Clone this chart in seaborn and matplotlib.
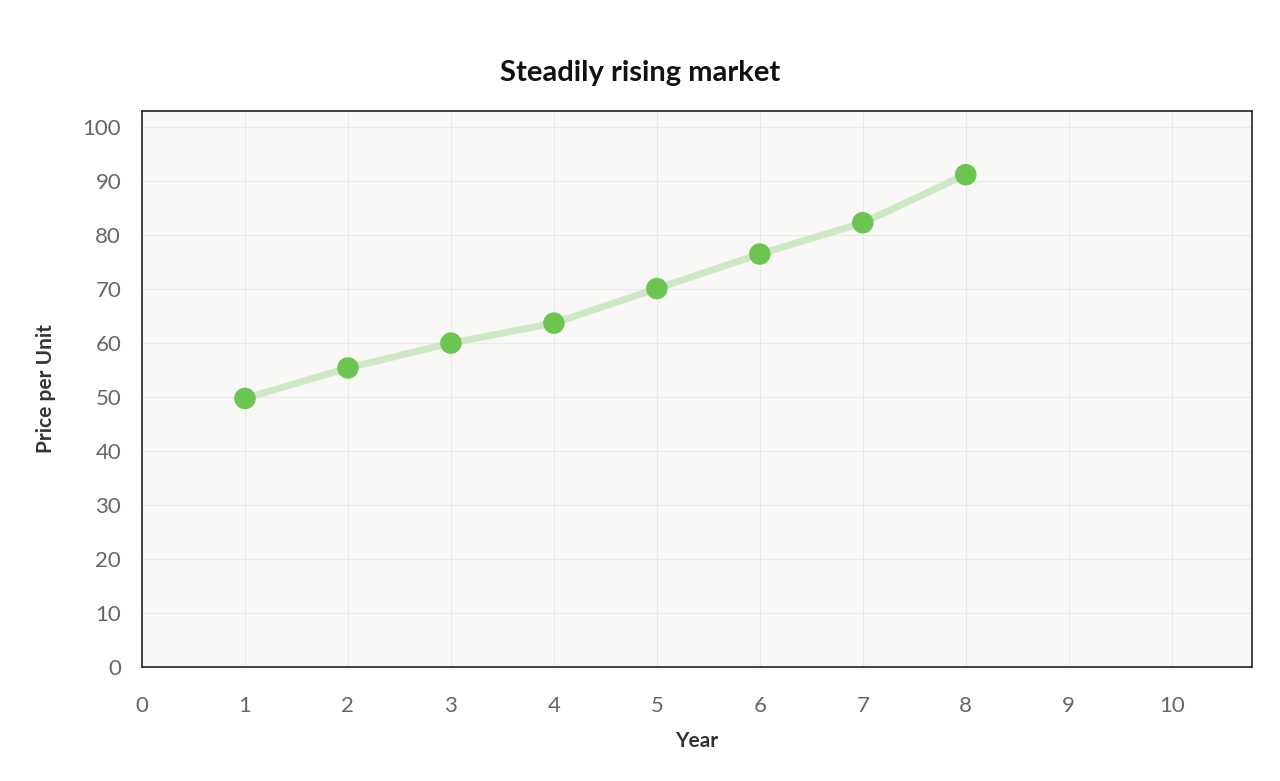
import matplotlib
matplotlib.use("Agg")
import matplotlib.pyplot as plt
import seaborn as sns
import pandas as pd

years = [1, 2, 3, 4, 5, 6, 7, 8]
prices = [49.75, 55.4, 60.0, 63.7, 70.1, 76.5, 82.3, 91.2]
x_ticks = [0, 1, 2, 3, 4, 5, 6, 7, 8, 9, 10]
y_ticks = [0, 10, 20, 30, 40, 50, 60, 70, 80, 90, 100]
title = "Steadily rising market"
x_label = "Year"
y_label = "Price per Unit"

df = pd.DataFrame({"Year": years, "Price": prices})

sns.set_theme(style="white")
plt.rcParams['font.family'] = ['Lato', 'DejaVu Sans']

fig = plt.figure(figsize=(12.8, 7.81), dpi=100)
ax = fig.add_axes([142/1280, 1 - 667/781, (1252-142)/1280, (667-111)/781])
ax.set_facecolor("#F9F8F7")

sns.lineplot(data=df, x="Year", y="Price", ax=ax, color="#CDE8C4", linewidth=5,
             solid_capstyle="round", zorder=3)
sns.scatterplot(data=df, x="Year", y="Price", ax=ax, color="#6CC551", s=240,
                edgecolor="none", zorder=4)

ax.set_xlim(0, 10.78)
ax.set_ylim(0, 103)
ax.set_xticks(x_ticks)
ax.set_yticks(y_ticks)
ax.grid(True, color="#E8E8E8", linewidth=0.8)
ax.set_axisbelow(True)
for s in ax.spines.values():
    s.set_color("#222222")
    s.set_linewidth(1.2)
    s.set_visible(True)
ax.tick_params(axis="both", which="major", direction="out", length=6, width=1.2,
               color="#222222", labelcolor="#666666", labelsize=16, pad=9)
ax.tick_params(axis="x", pad=15)

ax.set_xlabel(x_label, fontsize=15, fontweight="bold", color="#333333", labelpad=11)
ax.set_ylabel(y_label, fontsize=15, fontweight="bold", color="#333333", labelpad=19)
fig.text(0.5, 1 - 73/781, title, ha="center", va="center", fontsize=21,
         fontweight="bold", color="#111111")

fig.savefig("out.png", dpi=100, facecolor="white")
